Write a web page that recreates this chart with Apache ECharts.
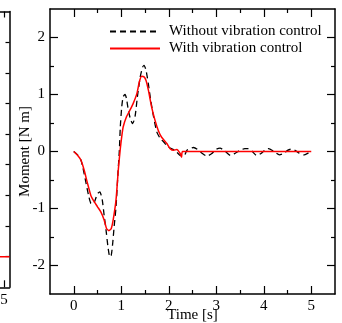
<!DOCTYPE html>
<html><head><meta charset="utf-8">
<script src="https://cdn.jsdelivr.net/npm/echarts@6/dist/echarts.min.js"></script>
<style>html,body{margin:0;padding:0;background:#fff}#c{width:342px;height:323px}</style>
</head><body><div id="c"></div>
<script>
const xMajor = [0, 1, 2, 3, 4, 5];
const xMinor = [0.5, 1.5, 2.5, 3.5, 4.5];
const yMajor = [-2, -1, 0, 1, 2];
const yMinor = [-1.5, -0.5, 0.5, 1.5];
const seriesNames = ['Without vibration control', 'With vibration control'];

const tWithout = [0, 0.08, 0.15, 0.19, 0.26, 0.32, 0.36, 0.41, 0.46, 0.5, 0.55, 0.6, 0.64, 0.68, 0.72, 0.76, 0.79, 0.82, 0.85, 0.89, 0.93, 0.96, 0.98, 1.01, 1.04, 1.08, 1.11, 1.15, 1.2, 1.24, 1.29, 1.34, 1.4, 1.45, 1.48, 1.52, 1.57, 1.62, 1.68, 1.75, 1.82, 1.89, 1.99, 2.06, 2.13, 2.24, 2.32, 2.38,
  2.45, 2.52, 2.6, 2.7, 2.8, 2.9, 3.0, 3.08, 3.18, 3.3, 3.4, 3.5, 3.6, 3.68, 3.76, 3.85, 3.95, 4.03, 4.1, 4.2, 4.33, 4.43, 4.5, 4.57, 4.66, 4.75, 4.85, 4.93, 5.0];
const mWithout = [0, -0.06, -0.15, -0.27, -0.56, -0.8, -0.91, -0.92, -0.83, -0.74, -0.71, -0.85, -1.12, -1.38, -1.67, -1.85, -1.82, -1.61, -1.32, -0.97, -0.39, 0.02, 0.43, 0.78, 0.96, 1.0, 0.93, 0.72, 0.55, 0.49, 0.61, 0.96, 1.31, 1.48, 1.51, 1.43, 1.19, 0.9, 0.61, 0.34, 0.23, 0.17, 0.08, 0.05, 0.02, -0.07, -0.08, 0.02,
  0.05, 0.07, 0.04, -0.03, -0.08, -0.04, 0.04, 0.06, 0.01, -0.07, -0.03, 0.02, 0.05, 0.05, 0.0, -0.07, -0.03, 0.03, 0.05, 0.01, -0.06, -0.03, 0.02, 0.04, 0.02, -0.03, -0.06, -0.03, 0.0];

const tWith = [0, 0.08, 0.15, 0.22, 0.29, 0.36, 0.43, 0.5, 0.57, 0.64, 0.69, 0.74, 0.79, 0.83, 0.89, 0.94, 0.98, 1.01, 1.04, 1.11, 1.18, 1.25, 1.33, 1.38, 1.43, 1.48, 1.52, 1.57, 1.64, 1.71, 1.78, 1.85, 1.96, 2.03, 2.1, 2.17, 2.24, 2.27, 2.29, 5.0];
const mWith = [0, -0.065, -0.15, -0.33, -0.56, -0.77, -0.88, -0.97, -1.06, -1.2, -1.35, -1.39, -1.35, -1.2, -0.85, -0.3, 0.05, 0.26, 0.43, 0.61, 0.72, 0.84, 1.02, 1.22, 1.32, 1.31, 1.25, 1.08, 0.78, 0.55, 0.37, 0.25, 0.14, 0.05, 0.02, 0.035, -0.035, -0.1, 0, 0];

// neighbouring (cropped) panel at the left edge
const leftXTicks = [5];
const leftYTicks = [1, 2, 3, 4, 5, 6, 7, 8];
const leftT = [3.5, 5.5];
const leftM = [1, 1];

const F = 'Liberation Serif';
const FS = 15;
const black = '#000';
const lineA = { show: true, onZero: false, lineStyle: { color: black, width: 1.5 } };
const noLine = { show: false, onZero: false };
const tickStyle = { color: black, width: 1.2 };

function ax(grid, pos, min, max, ticks, len, showLine, labels, extra) {
  return Object.assign({
    type: 'value', gridIndex: grid, position: pos, min: min, max: max,
    axisLine: showLine ? lineA : noLine,
    axisTick: { show: true, inside: true, length: len, customValues: ticks, lineStyle: tickStyle },
    axisLabel: labels ? { show: true, customValues: labels, margin: 5, color: black, fontFamily: F, fontSize: FS } : { show: false },
    splitLine: { show: false }, minorTick: { show: false }
  }, extra || {});
}

const nameStyle = { color: black, fontFamily: F, fontSize: FS };

const option = {
  animation: false,
  backgroundColor: '#fff',
  grid: [
    { left: 50, top: 9, width: 285, height: 285, outerBoundsMode: 'none', containLabel: false },
    { left: -56.5, top: 11.5, width: 66, height: 275.8, outerBoundsMode: 'none', containLabel: false }
  ],
  xAxis: [
    ax(0, 'bottom', -0.5, 5.5, xMajor, 8, true, xMajor, { name: 'Time [s]', nameLocation: 'middle', nameGap: 14, nameMoveOverlap: false, nameTextStyle: nameStyle }),
    ax(0, 'bottom', -0.5, 5.5, xMinor, 4, false, null),
    ax(0, 'top', -0.5, 5.5, xMajor, 8, true, null),
    ax(0, 'top', -0.5, 5.5, xMinor, 4, false, null),
    ax(1, 'bottom', -0.5, 5.5, leftXTicks, 7, true, leftXTicks),
    ax(1, 'top', -0.5, 5.5, leftXTicks, 6, true, null)
  ],
  yAxis: [
    ax(0, 'left', -2.5, 2.5, yMajor, 8, true, yMajor, { name: 'Moment [N m]', nameLocation: 'middle', nameGap: 17, nameMoveOverlap: false, nameRotate: 90, nameTextStyle: nameStyle }),
    ax(0, 'left', -2.5, 2.5, yMinor, 4, false, null),
    ax(0, 'right', -2.5, 2.5, yMajor, 8, true, null),
    ax(0, 'right', -2.5, 2.5, yMinor, 4, false, null),
    ax(1, 'right', 0, 9, leftYTicks, 4, true, null)
  ],
  legend: {
    data: seriesNames, orient: 'vertical', left: 109, top: 24, padding: 0,
    itemWidth: 50, itemHeight: 14, itemGap: 2,
    itemStyle: { opacity: 0 },
    textStyle: { fontFamily: F, fontSize: FS, color: black, padding: [0, 0, 0, 4] }
  },
  series: [
    { name: seriesNames[0], type: 'line', xAxisIndex: 0, yAxisIndex: 0, symbol: 'none', showSymbol: false, smooth: 0.2,
      data: tWithout.map((t, i) => [t, mWithout[i]]),
      lineStyle: { color: black, width: 1.3, type: [6, 4] }, itemStyle: { color: black } },
    { name: seriesNames[1], type: 'line', xAxisIndex: 0, yAxisIndex: 0, symbol: 'none', showSymbol: false, smooth: 0.2,
      data: tWith.map((t, i) => [t, mWith[i]]),
      lineStyle: { color: '#ff0000', width: 1.5 }, itemStyle: { color: '#ff0000' } },
    { name: 'left', type: 'line', xAxisIndex: 4, yAxisIndex: 4, symbol: 'none', showSymbol: false,
      data: leftT.map((t, i) => [t, leftM[i]]),
      lineStyle: { color: '#ff0000', width: 1.5 } }
  ]
};
const chart = echarts.init(document.getElementById('c'), null, { renderer: 'canvas' });
chart.setOption(option);
</script></body></html>
